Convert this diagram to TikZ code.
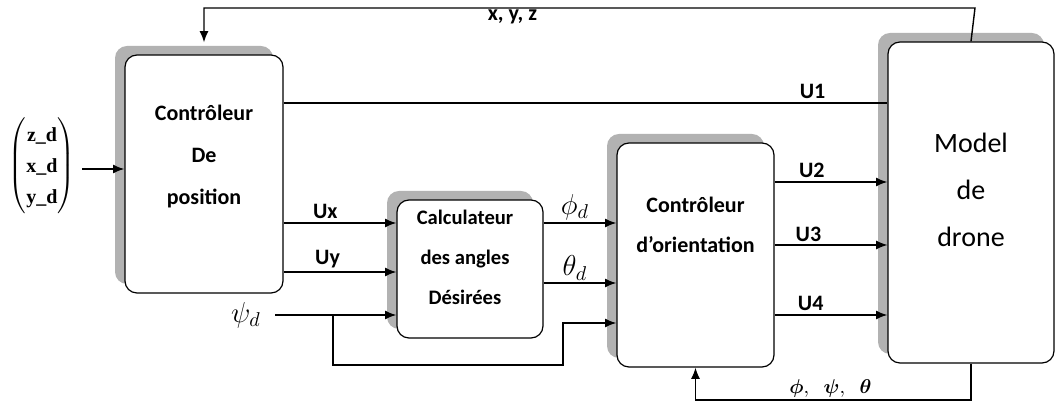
\documentclass[tikz,border=0pt]{standalone}
\usepackage{amsmath}
\usepackage{bm}
\usepackage{fontspec}
\setmainfont{Carlito}
\newfontfamily\vecfont{Liberation Serif}
\usetikzlibrary{arrows.meta,shadows}

\begin{document}
\begin{tikzpicture}[
  x=0.5pt, y=-0.5pt,
  box/.style={draw, line width=0.6pt, rounded corners=6pt, fill=white,
    general shadow={fill=black!30, shadow xshift=-5pt, shadow yshift=4.5pt}},
  txt/.style={align=center, font=\bfseries\fontsize{11}{21}\selectfont},
  arr/.style={-{Latex[length=2mm,width=1.6mm]}, line width=0.9pt},
  lbl/.style={font=\bfseries\fontsize{11}{12}\selectfont, inner sep=1.5pt},
  ang/.style={font=\fontsize{14.5}{15}\selectfont, inner sep=1pt}
]
\useasboundingbox (0,0) rectangle (1057,405);

% blocks
\node[box, minimum width=79pt, minimum height=119pt] (pos) at (204,174) {};
\node[txt] (posT) at ([yshift=8.5pt]pos.center) {Contrôleur\\De\\position};
\node[box, minimum width=73pt, minimum height=69pt] (calc) at (470,269) {};
\node[txt, font=\bfseries\fontsize{10.3}{20}\selectfont] (calcT) at ([xshift=-2.5pt,yshift=6pt]calc.center) {Calculateur\\des angles\\Désirées};
\node[box, minimum width=78.5pt, minimum height=112pt] (orient) at (695.5,255) {};
\node[txt, font=\bfseries\fontsize{11}{20}\selectfont] (orientT) at ([yshift=15pt]orient.center) {Contrôleur\\d’orientation};
\node[box, minimum width=83pt, minimum height=160.5pt] (drone) at (971,202.5) {};
\node[txt, font=\fontsize{14}{23.5}\selectfont] (droneT) at ([yshift=6.5pt]drone.center) {Model\\de\\drone};

% consigne
\node (vec) at (42,166) {\renewcommand{\arraystretch}{1.3}$\begin{pmatrix}\text{\vecfont\bfseries z\_d}\\ \text{\vecfont\bfseries x\_d}\\ \text{\vecfont\bfseries y\_d}\end{pmatrix}$};
\node[ang] (psid) at (246,315) {$\psi_d$};
\coordinate (br) at (333,315);
\coordinate (top) at (975,8);
\coordinate (bot) at (971,400);

% liaisons
\draw[arr] (vec.east |- 0,169) -- (pos.west |- 0,169);
\draw[line width=0.9pt] (pos.east |- 0,103) -- node[lbl, above, pos=0.876] {U1} (drone.west |- 0,103);
\draw[arr] (pos.east |- 0,223) -- node[lbl, above, pos=0.37] {Ux} (calc.west |- 0,223);
\draw[arr] (pos.east |- 0,272) -- node[lbl, above, pos=0.39] {Uy} (calc.west |- 0,272);
\draw[arr] ([xshift=6pt]psid.east) -- (calc.west |- psid);
\draw[arr] (br) -- (br |- 0,365) -| (563,323) -- (orient.west |- 0,323);
\draw[arr] (calc.east |- 0,223) -- node[ang, above, pos=0.43] {$\phi_d$} (orient.west |- 0,223);
\draw[arr] (calc.east |- 0,283) -- node[ang, above, pos=0.43] {$\theta_d$} (orient.west |- 0,283);
\draw[arr] (orient.east |- 0,182) -- node[lbl, above, pos=0.33] {U2} (drone.west |- 0,182);
\draw[arr, line width=0.6pt] (orient.east |- 0,245) -- node[lbl, above, pos=0.3] {U3} (drone.west |- 0,245);
\draw[arr] (orient.east |- 0,315) -- node[lbl, above, pos=0.32] {U4} (drone.west |- 0,315);

% retours
\draw[arr, line width=0.7pt] (drone.north) -- (top) -- node[lbl, below, pos=0.6, inner sep=0.5pt] {x, y, z} (top -| pos.north) -- ([yshift=6pt]pos.north);
\draw[arr, line width=0.7pt] (drone.south) -- (bot) -- node[above, pos=0.51, inner sep=1pt] {$\bm{\phi},\;\;\bm{\psi},\;\;\bm{\theta}$} (bot -| orient.south) -- (orient.south);
\end{tikzpicture}
\end{document}
